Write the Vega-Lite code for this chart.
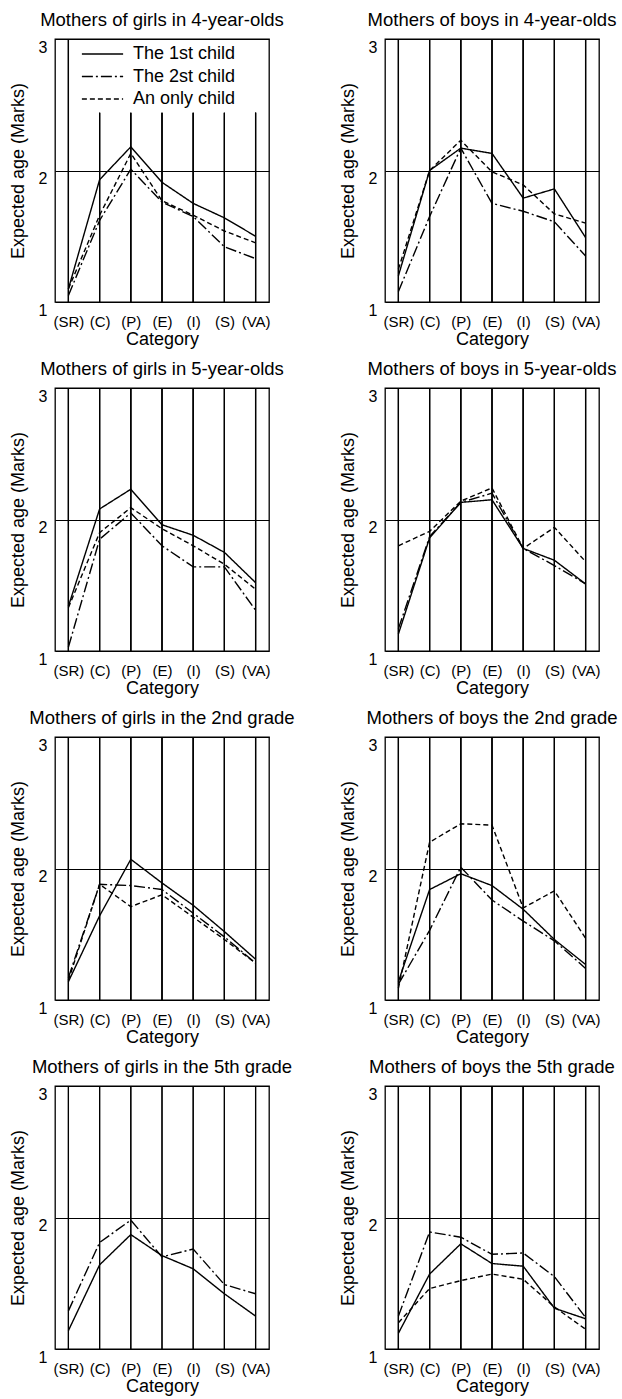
{
  "$schema": "https://vega.github.io/schema/vega-lite/v6.json",
  "padding": {"left": 8, "top": 10, "right": 5, "bottom": 5},
  "background": "white",
  "config": {
    "font": "Liberation Sans",
    "view": {"stroke": "black", "strokeWidth": 1.3},
    "axis": {"labelColor": "black", "titleColor": "black", "titleFontWeight": "normal", "labelFont": "Liberation Sans", "titleFont": "Liberation Sans"}
  },
  "data": {"values": [
    {"panel": "Mothers of girls in 4-year-olds", "series": "The 1st child", "category": "(SR)", "value": 1.10},
    {"panel": "Mothers of girls in 4-year-olds", "series": "The 1st child", "category": "(C)", "value": 1.93},
    {"panel": "Mothers of girls in 4-year-olds", "series": "The 1st child", "category": "(P)", "value": 2.18},
    {"panel": "Mothers of girls in 4-year-olds", "series": "The 1st child", "category": "(E)", "value": 1.91},
    {"panel": "Mothers of girls in 4-year-olds", "series": "The 1st child", "category": "(I)", "value": 1.75},
    {"panel": "Mothers of girls in 4-year-olds", "series": "The 1st child", "category": "(S)", "value": 1.64},
    {"panel": "Mothers of girls in 4-year-olds", "series": "The 1st child", "category": "(VA)", "value": 1.50},
    {"panel": "Mothers of girls in 4-year-olds", "series": "The 2st child", "category": "(SR)", "value": 1.05},
    {"panel": "Mothers of girls in 4-year-olds", "series": "The 2st child", "category": "(C)", "value": 1.62},
    {"panel": "Mothers of girls in 4-year-olds", "series": "The 2st child", "category": "(P)", "value": 2.01},
    {"panel": "Mothers of girls in 4-year-olds", "series": "The 2st child", "category": "(E)", "value": 1.76},
    {"panel": "Mothers of girls in 4-year-olds", "series": "The 2st child", "category": "(I)", "value": 1.65},
    {"panel": "Mothers of girls in 4-year-olds", "series": "The 2st child", "category": "(S)", "value": 1.42},
    {"panel": "Mothers of girls in 4-year-olds", "series": "The 2st child", "category": "(VA)", "value": 1.33},
    {"panel": "Mothers of girls in 4-year-olds", "series": "An only child", "category": "(SR)", "value": 1.10},
    {"panel": "Mothers of girls in 4-year-olds", "series": "An only child", "category": "(C)", "value": 1.66},
    {"panel": "Mothers of girls in 4-year-olds", "series": "An only child", "category": "(P)", "value": 2.13},
    {"panel": "Mothers of girls in 4-year-olds", "series": "An only child", "category": "(E)", "value": 1.77},
    {"panel": "Mothers of girls in 4-year-olds", "series": "An only child", "category": "(I)", "value": 1.66},
    {"panel": "Mothers of girls in 4-year-olds", "series": "An only child", "category": "(S)", "value": 1.54},
    {"panel": "Mothers of girls in 4-year-olds", "series": "An only child", "category": "(VA)", "value": 1.45},

    {"panel": "Mothers of boys in 4-year-olds", "series": "The 1st child", "category": "(SR)", "value": 1.20},
    {"panel": "Mothers of boys in 4-year-olds", "series": "The 1st child", "category": "(C)", "value": 2.00},
    {"panel": "Mothers of boys in 4-year-olds", "series": "The 1st child", "category": "(P)", "value": 2.17},
    {"panel": "Mothers of boys in 4-year-olds", "series": "The 1st child", "category": "(E)", "value": 2.13},
    {"panel": "Mothers of boys in 4-year-olds", "series": "The 1st child", "category": "(I)", "value": 1.79},
    {"panel": "Mothers of boys in 4-year-olds", "series": "The 1st child", "category": "(S)", "value": 1.86},
    {"panel": "Mothers of boys in 4-year-olds", "series": "The 1st child", "category": "(VA)", "value": 1.49},
    {"panel": "Mothers of boys in 4-year-olds", "series": "The 2st child", "category": "(SR)", "value": 1.08},
    {"panel": "Mothers of boys in 4-year-olds", "series": "The 2st child", "category": "(C)", "value": 1.65},
    {"panel": "Mothers of boys in 4-year-olds", "series": "The 2st child", "category": "(P)", "value": 2.17},
    {"panel": "Mothers of boys in 4-year-olds", "series": "The 2st child", "category": "(E)", "value": 1.75},
    {"panel": "Mothers of boys in 4-year-olds", "series": "The 2st child", "category": "(I)", "value": 1.69},
    {"panel": "Mothers of boys in 4-year-olds", "series": "The 2st child", "category": "(S)", "value": 1.61},
    {"panel": "Mothers of boys in 4-year-olds", "series": "The 2st child", "category": "(VA)", "value": 1.35},
    {"panel": "Mothers of boys in 4-year-olds", "series": "An only child", "category": "(SR)", "value": 1.25},
    {"panel": "Mothers of boys in 4-year-olds", "series": "An only child", "category": "(C)", "value": 2.00},
    {"panel": "Mothers of boys in 4-year-olds", "series": "An only child", "category": "(P)", "value": 2.23},
    {"panel": "Mothers of boys in 4-year-olds", "series": "An only child", "category": "(E)", "value": 1.99},
    {"panel": "Mothers of boys in 4-year-olds", "series": "An only child", "category": "(I)", "value": 1.89},
    {"panel": "Mothers of boys in 4-year-olds", "series": "An only child", "category": "(S)", "value": 1.67},
    {"panel": "Mothers of boys in 4-year-olds", "series": "An only child", "category": "(VA)", "value": 1.60},

    {"panel": "Mothers of girls in 5-year-olds", "series": "The 1st child", "category": "(SR)", "value": 1.34},
    {"panel": "Mothers of girls in 5-year-olds", "series": "The 1st child", "category": "(C)", "value": 2.08},
    {"panel": "Mothers of girls in 5-year-olds", "series": "The 1st child", "category": "(P)", "value": 2.23},
    {"panel": "Mothers of girls in 5-year-olds", "series": "The 1st child", "category": "(E)", "value": 1.96},
    {"panel": "Mothers of girls in 5-year-olds", "series": "The 1st child", "category": "(I)", "value": 1.88},
    {"panel": "Mothers of girls in 5-year-olds", "series": "The 1st child", "category": "(S)", "value": 1.75},
    {"panel": "Mothers of girls in 5-year-olds", "series": "The 1st child", "category": "(VA)", "value": 1.52},
    {"panel": "Mothers of girls in 5-year-olds", "series": "The 2st child", "category": "(SR)", "value": 1.03},
    {"panel": "Mothers of girls in 5-year-olds", "series": "The 2st child", "category": "(C)", "value": 1.85},
    {"panel": "Mothers of girls in 5-year-olds", "series": "The 2st child", "category": "(P)", "value": 2.05},
    {"panel": "Mothers of girls in 5-year-olds", "series": "The 2st child", "category": "(E)", "value": 1.80},
    {"panel": "Mothers of girls in 5-year-olds", "series": "The 2st child", "category": "(I)", "value": 1.64},
    {"panel": "Mothers of girls in 5-year-olds", "series": "The 2st child", "category": "(S)", "value": 1.64},
    {"panel": "Mothers of girls in 5-year-olds", "series": "The 2st child", "category": "(VA)", "value": 1.31},
    {"panel": "Mothers of girls in 5-year-olds", "series": "An only child", "category": "(SR)", "value": 1.33},
    {"panel": "Mothers of girls in 5-year-olds", "series": "An only child", "category": "(C)", "value": 1.90},
    {"panel": "Mothers of girls in 5-year-olds", "series": "An only child", "category": "(P)", "value": 2.09},
    {"panel": "Mothers of girls in 5-year-olds", "series": "An only child", "category": "(E)", "value": 1.93},
    {"panel": "Mothers of girls in 5-year-olds", "series": "An only child", "category": "(I)", "value": 1.80},
    {"panel": "Mothers of girls in 5-year-olds", "series": "An only child", "category": "(S)", "value": 1.66},
    {"panel": "Mothers of girls in 5-year-olds", "series": "An only child", "category": "(VA)", "value": 1.47},

    {"panel": "Mothers of boys in 5-year-olds", "series": "The 1st child", "category": "(SR)", "value": 1.13},
    {"panel": "Mothers of boys in 5-year-olds", "series": "The 1st child", "category": "(C)", "value": 1.86},
    {"panel": "Mothers of boys in 5-year-olds", "series": "The 1st child", "category": "(P)", "value": 2.13},
    {"panel": "Mothers of boys in 5-year-olds", "series": "The 1st child", "category": "(E)", "value": 2.15},
    {"panel": "Mothers of boys in 5-year-olds", "series": "The 1st child", "category": "(I)", "value": 1.78},
    {"panel": "Mothers of boys in 5-year-olds", "series": "The 1st child", "category": "(S)", "value": 1.69},
    {"panel": "Mothers of boys in 5-year-olds", "series": "The 1st child", "category": "(VA)", "value": 1.51},
    {"panel": "Mothers of boys in 5-year-olds", "series": "The 2st child", "category": "(SR)", "value": 1.17},
    {"panel": "Mothers of boys in 5-year-olds", "series": "The 2st child", "category": "(C)", "value": 1.87},
    {"panel": "Mothers of boys in 5-year-olds", "series": "The 2st child", "category": "(P)", "value": 2.13},
    {"panel": "Mothers of boys in 5-year-olds", "series": "The 2st child", "category": "(E)", "value": 2.20},
    {"panel": "Mothers of boys in 5-year-olds", "series": "The 2st child", "category": "(I)", "value": 1.78},
    {"panel": "Mothers of boys in 5-year-olds", "series": "The 2st child", "category": "(S)", "value": 1.65},
    {"panel": "Mothers of boys in 5-year-olds", "series": "The 2st child", "category": "(VA)", "value": 1.51},
    {"panel": "Mothers of boys in 5-year-olds", "series": "An only child", "category": "(SR)", "value": 1.80},
    {"panel": "Mothers of boys in 5-year-olds", "series": "An only child", "category": "(C)", "value": 1.91},
    {"panel": "Mothers of boys in 5-year-olds", "series": "An only child", "category": "(P)", "value": 2.14},
    {"panel": "Mothers of boys in 5-year-olds", "series": "An only child", "category": "(E)", "value": 2.24},
    {"panel": "Mothers of boys in 5-year-olds", "series": "An only child", "category": "(I)", "value": 1.78},
    {"panel": "Mothers of boys in 5-year-olds", "series": "An only child", "category": "(S)", "value": 1.94},
    {"panel": "Mothers of boys in 5-year-olds", "series": "An only child", "category": "(VA)", "value": 1.68},

    {"panel": "Mothers of girls in the 2nd grade", "series": "The 1st child", "category": "(SR)", "value": 1.14},
    {"panel": "Mothers of girls in the 2nd grade", "series": "The 1st child", "category": "(C)", "value": 1.64},
    {"panel": "Mothers of girls in the 2nd grade", "series": "The 1st child", "category": "(P)", "value": 2.07},
    {"panel": "Mothers of girls in the 2nd grade", "series": "The 1st child", "category": "(E)", "value": 1.89},
    {"panel": "Mothers of girls in the 2nd grade", "series": "The 1st child", "category": "(I)", "value": 1.72},
    {"panel": "Mothers of girls in the 2nd grade", "series": "The 1st child", "category": "(S)", "value": 1.52},
    {"panel": "Mothers of girls in the 2nd grade", "series": "The 1st child", "category": "(VA)", "value": 1.31},
    {"panel": "Mothers of girls in the 2nd grade", "series": "The 2st child", "category": "(SR)", "value": 1.17},
    {"panel": "Mothers of girls in the 2nd grade", "series": "The 2st child", "category": "(C)", "value": 1.88},
    {"panel": "Mothers of girls in the 2nd grade", "series": "The 2st child", "category": "(P)", "value": 1.87},
    {"panel": "Mothers of girls in the 2nd grade", "series": "The 2st child", "category": "(E)", "value": 1.84},
    {"panel": "Mothers of girls in the 2nd grade", "series": "The 2st child", "category": "(I)", "value": 1.66},
    {"panel": "Mothers of girls in the 2nd grade", "series": "The 2st child", "category": "(S)", "value": 1.48},
    {"panel": "Mothers of girls in the 2nd grade", "series": "The 2st child", "category": "(VA)", "value": 1.28},
    {"panel": "Mothers of girls in the 2nd grade", "series": "An only child", "category": "(SR)", "value": 1.15},
    {"panel": "Mothers of girls in the 2nd grade", "series": "An only child", "category": "(C)", "value": 1.88},
    {"panel": "Mothers of girls in the 2nd grade", "series": "An only child", "category": "(P)", "value": 1.71},
    {"panel": "Mothers of girls in the 2nd grade", "series": "An only child", "category": "(E)", "value": 1.80},
    {"panel": "Mothers of girls in the 2nd grade", "series": "An only child", "category": "(I)", "value": 1.63},
    {"panel": "Mothers of girls in the 2nd grade", "series": "An only child", "category": "(S)", "value": 1.46},
    {"panel": "Mothers of girls in the 2nd grade", "series": "An only child", "category": "(VA)", "value": 1.28},

    {"panel": "Mothers of boys the 2nd grade", "series": "The 1st child", "category": "(SR)", "value": 1.14},
    {"panel": "Mothers of boys the 2nd grade", "series": "The 1st child", "category": "(C)", "value": 1.84},
    {"panel": "Mothers of boys the 2nd grade", "series": "The 1st child", "category": "(P)", "value": 1.96},
    {"panel": "Mothers of boys the 2nd grade", "series": "The 1st child", "category": "(E)", "value": 1.87},
    {"panel": "Mothers of boys the 2nd grade", "series": "The 1st child", "category": "(I)", "value": 1.69},
    {"panel": "Mothers of boys the 2nd grade", "series": "The 1st child", "category": "(S)", "value": 1.46},
    {"panel": "Mothers of boys the 2nd grade", "series": "The 1st child", "category": "(VA)", "value": 1.27},
    {"panel": "Mothers of boys the 2nd grade", "series": "The 2st child", "category": "(SR)", "value": 1.12},
    {"panel": "Mothers of boys the 2nd grade", "series": "The 2st child", "category": "(C)", "value": 1.53},
    {"panel": "Mothers of boys the 2nd grade", "series": "The 2st child", "category": "(P)", "value": 2.01},
    {"panel": "Mothers of boys the 2nd grade", "series": "The 2st child", "category": "(E)", "value": 1.76},
    {"panel": "Mothers of boys the 2nd grade", "series": "The 2st child", "category": "(I)", "value": 1.60},
    {"panel": "Mothers of boys the 2nd grade", "series": "The 2st child", "category": "(S)", "value": 1.45},
    {"panel": "Mothers of boys the 2nd grade", "series": "The 2st child", "category": "(VA)", "value": 1.24},
    {"panel": "Mothers of boys the 2nd grade", "series": "An only child", "category": "(SR)", "value": 1.09},
    {"panel": "Mothers of boys the 2nd grade", "series": "An only child", "category": "(C)", "value": 2.20},
    {"panel": "Mothers of boys the 2nd grade", "series": "An only child", "category": "(P)", "value": 2.34},
    {"panel": "Mothers of boys the 2nd grade", "series": "An only child", "category": "(E)", "value": 2.33},
    {"panel": "Mothers of boys the 2nd grade", "series": "An only child", "category": "(I)", "value": 1.70},
    {"panel": "Mothers of boys the 2nd grade", "series": "An only child", "category": "(S)", "value": 1.83},
    {"panel": "Mothers of boys the 2nd grade", "series": "An only child", "category": "(VA)", "value": 1.47},

    {"panel": "Mothers of girls in the 5th grade", "series": "The 1st child", "category": "(SR)", "value": 1.14},
    {"panel": "Mothers of girls in the 5th grade", "series": "The 1st child", "category": "(C)", "value": 1.64},
    {"panel": "Mothers of girls in the 5th grade", "series": "The 1st child", "category": "(P)", "value": 1.87},
    {"panel": "Mothers of girls in the 5th grade", "series": "The 1st child", "category": "(E)", "value": 1.71},
    {"panel": "Mothers of girls in the 5th grade", "series": "The 1st child", "category": "(I)", "value": 1.61},
    {"panel": "Mothers of girls in the 5th grade", "series": "The 1st child", "category": "(S)", "value": 1.42},
    {"panel": "Mothers of girls in the 5th grade", "series": "The 1st child", "category": "(VA)", "value": 1.25},
    {"panel": "Mothers of girls in the 5th grade", "series": "The 2st child", "category": "(SR)", "value": 1.29},
    {"panel": "Mothers of girls in the 5th grade", "series": "The 2st child", "category": "(C)", "value": 1.81},
    {"panel": "Mothers of girls in the 5th grade", "series": "The 2st child", "category": "(P)", "value": 1.98},
    {"panel": "Mothers of girls in the 5th grade", "series": "The 2st child", "category": "(E)", "value": 1.70},
    {"panel": "Mothers of girls in the 5th grade", "series": "The 2st child", "category": "(I)", "value": 1.76},
    {"panel": "Mothers of girls in the 5th grade", "series": "The 2st child", "category": "(S)", "value": 1.49},
    {"panel": "Mothers of girls in the 5th grade", "series": "The 2st child", "category": "(VA)", "value": 1.42},

    {"panel": "Mothers of boys the 5th grade", "series": "The 1st child", "category": "(SR)", "value": 1.12},
    {"panel": "Mothers of boys the 5th grade", "series": "The 1st child", "category": "(C)", "value": 1.57},
    {"panel": "Mothers of boys the 5th grade", "series": "The 1st child", "category": "(P)", "value": 1.80},
    {"panel": "Mothers of boys the 5th grade", "series": "The 1st child", "category": "(E)", "value": 1.65},
    {"panel": "Mothers of boys the 5th grade", "series": "The 1st child", "category": "(I)", "value": 1.63},
    {"panel": "Mothers of boys the 5th grade", "series": "The 1st child", "category": "(S)", "value": 1.31},
    {"panel": "Mothers of boys the 5th grade", "series": "The 1st child", "category": "(VA)", "value": 1.23},
    {"panel": "Mothers of boys the 5th grade", "series": "The 2st child", "category": "(SR)", "value": 1.25},
    {"panel": "Mothers of boys the 5th grade", "series": "The 2st child", "category": "(C)", "value": 1.89},
    {"panel": "Mothers of boys the 5th grade", "series": "The 2st child", "category": "(P)", "value": 1.85},
    {"panel": "Mothers of boys the 5th grade", "series": "The 2st child", "category": "(E)", "value": 1.72},
    {"panel": "Mothers of boys the 5th grade", "series": "The 2st child", "category": "(I)", "value": 1.73},
    {"panel": "Mothers of boys the 5th grade", "series": "The 2st child", "category": "(S)", "value": 1.55},
    {"panel": "Mothers of boys the 5th grade", "series": "The 2st child", "category": "(VA)", "value": 1.24},
    {"panel": "Mothers of boys the 5th grade", "series": "An only child", "category": "(SR)", "value": 1.20},
    {"panel": "Mothers of boys the 5th grade", "series": "An only child", "category": "(C)", "value": 1.46},
    {"panel": "Mothers of boys the 5th grade", "series": "An only child", "category": "(P)", "value": 1.52},
    {"panel": "Mothers of boys the 5th grade", "series": "An only child", "category": "(E)", "value": 1.57},
    {"panel": "Mothers of boys the 5th grade", "series": "An only child", "category": "(I)", "value": 1.53},
    {"panel": "Mothers of boys the 5th grade", "series": "An only child", "category": "(S)", "value": 1.32},
    {"panel": "Mothers of boys the 5th grade", "series": "An only child", "category": "(VA)", "value": 1.15}
  ]},
  "facet": {
    "field": "panel",
    "title": null,
    "sort": ["Mothers of girls in 4-year-olds", "Mothers of boys in 4-year-olds", "Mothers of girls in 5-year-olds", "Mothers of boys in 5-year-olds", "Mothers of girls in the 2nd grade", "Mothers of boys the 2nd grade", "Mothers of girls in the 5th grade", "Mothers of boys the 5th grade"],
    "header": {"labelFontSize": 18.5, "labelFont": "Liberation Sans", "labelColor": "black", "labelPadding": 9}
  },
  "columns": 2,
  "spacing": {"row": 10, "column": 42},
  "resolve": {"axis": {"x": "independent", "y": "independent"}},
  "spec": {
    "width": 214,
    "height": 263,
    "encoding": {
      "x": {
        "field": "category", "type": "nominal",
        "sort": ["(SR)", "(C)", "(P)", "(E)", "(I)", "(S)", "(VA)"],
        "scale": {"type": "point", "padding": 0.43},
        "axis": {"title": "Category", "labelAngle": 0, "labelFontSize": 15, "titleFontSize": 18, "ticks": false, "domain": false, "grid": false, "labelPadding": 12, "titlePadding": 1}
      }
    },
    "layer": [
      {
        "transform": [{"filter": "datum.panel != 'Mothers of girls in 4-year-olds' || datum.category == '(SR)'"}],
        "mark": {"type": "rule", "color": "black", "strokeWidth": 1.2},
        "encoding": {
          "y": {"datum": 1, "type": "quantitative", "scale": {"domain": [1, 3], "nice": false, "zero": false},
            "axis": {"title": "Expected age (Marks)", "values": [1, 2, 3], "labelExpr": "format(datum.value, '.0f')", "grid": true, "gridColor": "black", "gridOpacity": 1, "gridWidth": 1.2, "ticks": false, "domain": false, "labelFontSize": 16, "labelBaseline": "top", "labelPadding": 8, "labelOverlap": false, "titleFontSize": 18, "titlePadding": 11}},
          "y2": {"datum": 3}
        }
      },
      {
        "transform": [{"filter": "datum.panel == 'Mothers of girls in 4-year-olds' && datum.category != '(SR)'"}],
        "mark": {"type": "rule", "color": "black", "strokeWidth": 1.2},
        "encoding": {
          "y": {"datum": 1, "type": "quantitative", "scale": {"domain": [1, 3], "nice": false, "zero": false},
            "axis": {"title": "Expected age (Marks)", "values": [1, 2, 3], "labelExpr": "format(datum.value, '.0f')", "grid": true, "gridColor": "black", "gridOpacity": 1, "gridWidth": 1.2, "ticks": false, "domain": false, "labelFontSize": 16, "labelBaseline": "top", "labelPadding": 8, "labelOverlap": false, "titleFontSize": 18, "titlePadding": 11}},
          "y2": {"datum": 2.44}
        }
      },
      {
        "mark": {"type": "line", "color": "black", "strokeWidth": 1.4},
        "encoding": {
          "y": {"field": "value", "type": "quantitative", "scale": {"domain": [1, 3], "nice": false, "zero": false},
            "axis": {"title": "Expected age (Marks)", "values": [1, 2, 3], "labelExpr": "format(datum.value, '.0f')", "grid": true, "gridColor": "black", "gridOpacity": 1, "gridWidth": 1.2, "ticks": false, "domain": false, "labelFontSize": 16, "labelBaseline": "top", "labelPadding": 8, "labelOverlap": false, "titleFontSize": 18, "titlePadding": 11}},
          "strokeDash": {
            "field": "series", "type": "nominal",
            "scale": {"domain": ["The 1st child", "The 2st child", "An only child"], "range": [[1, 0], [11, 3, 2, 3], [5, 3]]},
            "legend": {"title": null, "orient": "none", "legendX": 26, "legendY": 4, "labelFontSize": 18, "labelColor": "black", "labelFont": "Liberation Sans", "symbolSize": 1700, "symbolStrokeWidth": 1.4, "symbolStrokeColor": "black", "clipHeight": 22, "rowPadding": 0.5, "labelOffset": 9, "padding": 0}
          }
        }
      }
    ]
  }
}
